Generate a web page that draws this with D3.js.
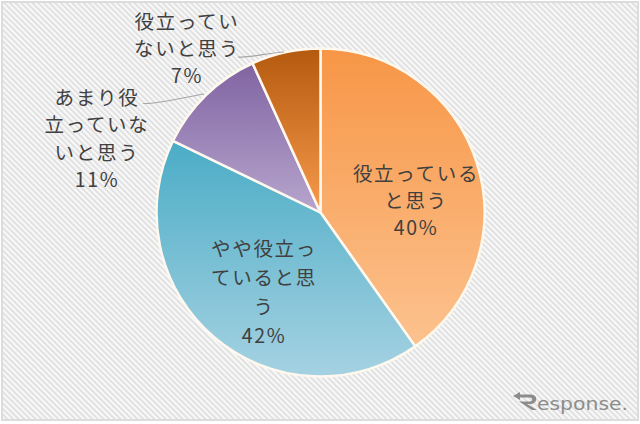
<!DOCTYPE html>
<html>
<head>
<meta charset="utf-8">
<script src="https://cdn.jsdelivr.net/npm/d3@7"></script>
<style>
html, body { margin: 0; padding: 0; background: #fff; }
svg { display: block; }
text { font-family: "Noto Sans CJK JP", sans-serif; fill: #404040; }
</style>
</head>
<body>
<div id="chart"></div>
<script>
var categories = ["役立っていると思う", "やや役立っていると思う", "あまり役立っていないと思う", "役立っていないと思う"];
var values = [40.2, 42, 11, 6.8];
var topColors = ["#f79646", "#4bacc6", "#8064a2", "#b45a0e"];
var bottomColors = ["#fcc28f", "#a5d2e2", "#b7a5cd", "#f79a4c"];
var labelLines = [
	["役立っている", "と思う", "40%"],
	["やや役立っ", "ていると思", "う", "42%"],
	["あまり役", "立っていな", "いと思う", "11%"],
	["役立ってい", "ないと思う", "7%"]
];

var width = 640, height = 424;
var cx = 320.5, cy = 212.5, radius = 164;

var svg = d3.select("#chart").append("svg")
	.attr("width", width)
	.attr("height", height);

var defs = svg.append("defs");

// diagonal hatch behind the chart
var hatch = defs.append("pattern")
	.attr("id", "hatch")
	.attr("width", 4)
	.attr("height", 4)
	.attr("patternUnits", "userSpaceOnUse")
	.attr("patternTransform", "rotate(-45)");
hatch.append("rect").attr("width", 4).attr("height", 4).attr("fill", "#f8f8f8");
hatch.append("rect").attr("width", 1.7).attr("height", 4).attr("fill", "#dedede");

svg.append("rect")
	.attr("x", 2).attr("y", 2)
	.attr("width", 636).attr("height", 418)
	.attr("fill", "url(#hatch)")
	.attr("stroke", "#dcdcdc")
	.attr("stroke-width", 2);

// each slice fades from top to bottom of its own box
categories.forEach(function (c, i) {
	var g = defs.append("linearGradient")
		.attr("id", "grad" + i)
		.attr("x1", 0).attr("y1", 0).attr("x2", 0).attr("y2", 1);
	g.append("stop").attr("offset", "0%").attr("stop-color", topColors[i]);
	g.append("stop").attr("offset", "100%").attr("stop-color", bottomColors[i]);
});

var pie = d3.pie().sort(null);
var arcs = pie(values);
var arc = d3.arc().innerRadius(0).outerRadius(radius);

var chart = svg.append("g").attr("transform", "translate(" + cx + "," + cy + ")");

chart.selectAll("path")
	.data(arcs)
	.enter()
	.append("path")
	.attr("d", arc)
	.attr("fill", function (d, i) { return "url(#grad" + i + ")"; })
	.attr("stroke", "#fff8ee")
	.attr("stroke-width", 2.5)
	.attr("stroke-linejoin", "round");

// leader lines for the two small slices
var leaders = [
	"M143,103.5 C160,104 185,97 204,94",
	"M238,57 C250,57.5 268,53 284,52"
];
svg.selectAll(".leader")
	.data(leaders)
	.enter()
	.append("path")
	.attr("class", "leader")
	.attr("d", function (d) { return d; })
	.attr("fill", "none")
	.attr("stroke", "#a6a6a6")
	.attr("stroke-width", 1.2);

var labelPos = [
	{ x: 416, y: 181, step: 27 },
	{ x: 264, y: 256, step: 29 },
	{ x: 97, y: 105, step: 27.3 },
	{ x: 187, y: 29, step: 27 }
];

labelLines.forEach(function (lines, i) {
	var p = labelPos[i];
	var t = svg.append("text")
		.attr("text-anchor", "middle")
		.attr("font-size", 19.5)
		.attr("letter-spacing", 1.7);
	lines.forEach(function (line, k) {
		t.append("tspan")
			.attr("x", p.x)
			.attr("y", p.y + k * p.step)
			.text(line);
	});
});

// watermark
svg.append("path")
	.attr("fill", "#8c8c8c")
	.attr("d", "M513,396 L520,392 L520,394.5 L531,394.5 C538,394.5 538,403.5 531,404 L527,404 L537,410 L532,410 L519,401.5 L530,401.5 C533,401.5 533,397.5 530,397.5 L520,397.5 L520,400 Z");
svg.append("text")
	.attr("x", 537)
	.attr("y", 410)
	.attr("font-size", 17)
	.attr("textLength", 91)
	.attr("lengthAdjust", "spacingAndGlyphs")
	.style("font-family", "'DejaVu Sans', sans-serif")
	.style("fill", "#8c8c8c")
	.text("esponse.");
</script>
</body>
</html>
